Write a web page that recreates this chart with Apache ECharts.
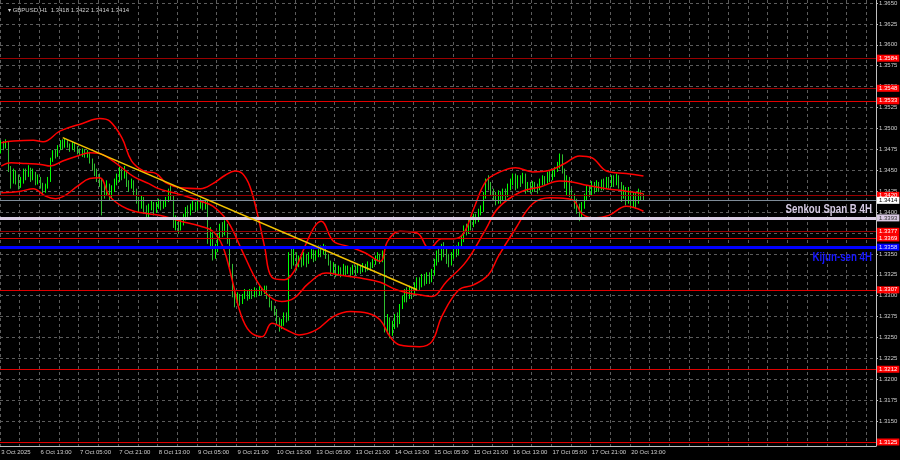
<!DOCTYPE html>
<html>
<head>
<meta charset="utf-8">
<script src="https://cdn.jsdelivr.net/npm/echarts@6/dist/echarts.min.js"></script>
<style>
html, body { margin: 0; padding: 0; background: #000; }
#chart { width: 900px; height: 460px; }
</style>
</head>
<body>
<div id="chart"></div>
<script>
// GBPUSD H1, bars from 3 Oct 2025 21:00 to 20 Oct 2025 18:00
var firstOpen = 1.3472
var closes = [
  1.3482, 1.3478, 1.3484, 1.3452, 1.3438, 1.3445, 1.3440, 1.3432, 1.3436, 1.3448,
  1.3444, 1.3450, 1.3441, 1.3446, 1.3436, 1.3440, 1.3432, 1.3426, 1.3430, 1.3438,
  1.3462, 1.3470, 1.3468, 1.3476, 1.3482, 1.3479, 1.3484, 1.3480, 1.3476, 1.3481,
  1.3477, 1.3472, 1.3470, 1.3474, 1.3468, 1.3471, 1.3462, 1.3455, 1.3450, 1.3442,
  1.3436, 1.3428, 1.3425, 1.3432, 1.3420, 1.3427, 1.3436, 1.3440, 1.3448, 1.3442,
  1.3446, 1.3434, 1.3430, 1.3436, 1.3426, 1.3414, 1.3408, 1.3416, 1.3404, 1.3398,
  1.3405, 1.3410, 1.3402, 1.3408, 1.3412, 1.3406, 1.3411, 1.3415, 1.3424, 1.3418,
  1.3386, 1.3390, 1.3382, 1.3388, 1.3394, 1.3402, 1.3398, 1.3406, 1.3410, 1.3404,
  1.3408, 1.3412, 1.3406, 1.3410, 1.3368, 1.3372, 1.3346, 1.3356, 1.3370, 1.3382,
  1.3376, 1.3384, 1.3366, 1.3336, 1.3302, 1.3296, 1.3300, 1.3292, 1.3298, 1.3304,
  1.3298, 1.3304, 1.3300, 1.3306, 1.3302, 1.3308, 1.3304, 1.3310, 1.3300, 1.3292,
  1.3286, 1.3280, 1.3270, 1.3262, 1.3268, 1.3276, 1.3272, 1.3346, 1.3340, 1.3350, 1.3336, 1.3344, 1.3340,
  1.3346, 1.3340, 1.3348, 1.3352, 1.3344, 1.3350, 1.3356, 1.3352, 1.3358, 1.3348,
  1.3340, 1.3330, 1.3336, 1.3328, 1.3332, 1.3326, 1.3334, 1.3328, 1.3332, 1.3327,
  1.3333, 1.3329, 1.3334, 1.3330, 1.3336, 1.3332, 1.3338, 1.3335, 1.3340, 1.3344, 1.3348, 1.3343, 1.3350,
  1.3262, 1.3270, 1.3258, 1.3264, 1.3272, 1.3268, 1.3286, 1.3296, 1.3302, 1.3298, 1.3306, 1.3302,
  1.3312, 1.3318, 1.3314, 1.3322, 1.3318, 1.3324, 1.3320, 1.3328, 1.3340, 1.3348,
  1.3344, 1.3356, 1.3352, 1.3345, 1.3338, 1.3348, 1.3356, 1.3350, 1.3360, 1.3368,
  1.3380, 1.3376, 1.3388, 1.3384, 1.3394, 1.3390, 1.3400, 1.3404, 1.3420, 1.3436,
  1.3430, 1.3424, 1.3418, 1.3414, 1.3420, 1.3416, 1.3424, 1.3420, 1.3430, 1.3436,
  1.3442, 1.3432, 1.3440, 1.3436, 1.3444, 1.3428, 1.3432, 1.3426, 1.3434, 1.3430, 1.3428,
  1.3436, 1.3440, 1.3437, 1.3444, 1.3442, 1.3446, 1.3450, 1.3456, 1.3468, 1.3450,
  1.3432, 1.3440, 1.3424, 1.3418, 1.3412, 1.3404, 1.3396, 1.3408, 1.3418, 1.3428,
  1.3424, 1.3432, 1.3428, 1.3434, 1.3430, 1.3436, 1.3432, 1.3438, 1.3434, 1.3440,
  1.3436, 1.3442, 1.3432, 1.3420, 1.3428, 1.3414, 1.3424, 1.3410, 1.3420, 1.3412, 1.3424, 1.3418, 1.3414
]
var highs = [
  1.3486, 1.3485, 1.3487, 1.3485, 1.3455, 1.3452, 1.3450, 1.3445, 1.3442, 1.3452,
  1.3452, 1.3456, 1.3453, 1.3452, 1.3448, 1.3445, 1.3442, 1.3435, 1.3434, 1.3442,
  1.3465, 1.3474, 1.3475, 1.3480, 1.3486, 1.3487, 1.3488, 1.3486, 1.3482, 1.3484,
  1.3483, 1.3479, 1.3476, 1.3476, 1.3475, 1.3474, 1.3472, 1.3464, 1.3458, 1.3452,
  1.3446, 1.3440, 1.3434, 1.3438, 1.3434, 1.3432, 1.3440, 1.3446, 1.3454, 1.3452,
  1.3455, 1.3448, 1.3438, 1.3440, 1.3438, 1.3428, 1.3418, 1.3420, 1.3418, 1.3408,
  1.3410, 1.3414, 1.3412, 1.3412, 1.3416, 1.3415, 1.3414, 1.3418, 1.3428, 1.3432,
  1.3420, 1.3396, 1.3394, 1.3392, 1.3398, 1.3406, 1.3408, 1.3410, 1.3414, 1.3412,
  1.3414, 1.3416, 1.3414, 1.3414, 1.3414, 1.3382, 1.3376, 1.3362, 1.3374, 1.3386,
  1.3388, 1.3390, 1.3386, 1.3368, 1.3338, 1.3306, 1.3304, 1.3302, 1.3302, 1.3308,
  1.3306, 1.3308, 1.3308, 1.3310, 1.3308, 1.3312, 1.3310, 1.3312, 1.3312, 1.3302,
  1.3294, 1.3288, 1.3284, 1.3274, 1.3272, 1.3280, 1.3280, 1.3352, 1.3356, 1.3356, 1.3352, 1.3348, 1.3346,
  1.3352, 1.3350, 1.3352, 1.3356, 1.3355, 1.3354, 1.3360, 1.3360, 1.3362, 1.3360,
  1.3350, 1.3342, 1.3340, 1.3338, 1.3336, 1.3334, 1.3338, 1.3336, 1.3336, 1.3334,
  1.3337, 1.3336, 1.3338, 1.3336, 1.3339, 1.3338, 1.3341, 1.3340, 1.3344, 1.3348, 1.3352, 1.3350, 1.3354,
  1.3352, 1.3278, 1.3274, 1.3270, 1.3278, 1.3280, 1.3290, 1.3300, 1.3308, 1.3310, 1.3312, 1.3310,
  1.3316, 1.3322, 1.3322, 1.3326, 1.3326, 1.3328, 1.3328, 1.3332, 1.3344, 1.3354,
  1.3356, 1.3362, 1.3364, 1.3358, 1.3350, 1.3352, 1.3360, 1.3360, 1.3364, 1.3372,
  1.3384, 1.3386, 1.3392, 1.3392, 1.3398, 1.3398, 1.3404, 1.3408, 1.3424, 1.3440,
  1.3444, 1.3436, 1.3428, 1.3424, 1.3426, 1.3424, 1.3428, 1.3428, 1.3434, 1.3440,
  1.3446, 1.3446, 1.3444, 1.3444, 1.3447, 1.3446, 1.3436, 1.3436, 1.3437, 1.3436, 1.3434,
  1.3440, 1.3444, 1.3443, 1.3448, 1.3449, 1.3450, 1.3454, 1.3460, 1.3470, 1.3469,
  1.3452, 1.3444, 1.3442, 1.3428, 1.3422, 1.3416, 1.3410, 1.3412, 1.3422, 1.3432,
  1.3432, 1.3437, 1.3436, 1.3438, 1.3436, 1.3439, 1.3440, 1.3442, 1.3442, 1.3444,
  1.3444, 1.3446, 1.3444, 1.3436, 1.3432, 1.3430, 1.3430, 1.3426, 1.3424, 1.3424, 1.3428, 1.3426, 1.3422
]
var lows = [
  1.3470, 1.3474, 1.3476, 1.3448, 1.3428, 1.3434, 1.3433, 1.3427, 1.3429, 1.3434,
  1.3438, 1.3442, 1.3436, 1.3438, 1.3432, 1.3433, 1.3428, 1.3422, 1.3423, 1.3428,
  1.3436, 1.3460, 1.3464, 1.3466, 1.3474, 1.3475, 1.3477, 1.3477, 1.3472, 1.3474,
  1.3472, 1.3469, 1.3467, 1.3466, 1.3465, 1.3465, 1.3458, 1.3450, 1.3443, 1.3436,
  1.3430, 1.3396, 1.3416, 1.3420, 1.3414, 1.3416, 1.3424, 1.3432, 1.3436, 1.3438,
  1.3440, 1.3430, 1.3424, 1.3428, 1.3420, 1.3410, 1.3400, 1.3404, 1.3398, 1.3392,
  1.3394, 1.3402, 1.3396, 1.3399, 1.3404, 1.3402, 1.3404, 1.3406, 1.3412, 1.3414,
  1.3381, 1.3378, 1.3374, 1.3378, 1.3384, 1.3390, 1.3394, 1.3396, 1.3402, 1.3400,
  1.3402, 1.3404, 1.3402, 1.3403, 1.3362, 1.3358, 1.3342, 1.3344, 1.3352, 1.3366,
  1.3370, 1.3372, 1.3362, 1.3334, 1.3298, 1.3286, 1.3292, 1.3288, 1.3290, 1.3296,
  1.3294, 1.3296, 1.3296, 1.3298, 1.3298, 1.3300, 1.3300, 1.3302, 1.3296, 1.3286,
  1.3282, 1.3276, 1.3266, 1.3257, 1.3260, 1.3264, 1.3268, 1.3270, 1.3332, 1.3336, 1.3330, 1.3334, 1.3334,
  1.3336, 1.3334, 1.3338, 1.3344, 1.3340, 1.3342, 1.3346, 1.3346, 1.3349, 1.3344,
  1.3336, 1.3324, 1.3326, 1.3322, 1.3325, 1.3322, 1.3324, 1.3324, 1.3326, 1.3322,
  1.3325, 1.3324, 1.3327, 1.3326, 1.3328, 1.3328, 1.3330, 1.3330, 1.3333, 1.3337, 1.3341, 1.3338, 1.3340,
  1.3256, 1.3254, 1.3249, 1.3252, 1.3260, 1.3262, 1.3266, 1.3284, 1.3292, 1.3292, 1.3296, 1.3296,
  1.3300, 1.3308, 1.3306, 1.3310, 1.3312, 1.3314, 1.3314, 1.3316, 1.3324, 1.3336,
  1.3340, 1.3342, 1.3346, 1.3338, 1.3334, 1.3336, 1.3344, 1.3346, 1.3348, 1.3356,
  1.3364, 1.3372, 1.3374, 1.3378, 1.3382, 1.3386, 1.3388, 1.3396, 1.3400, 1.3416,
  1.3426, 1.3420, 1.3414, 1.3408, 1.3410, 1.3410, 1.3414, 1.3414, 1.3418, 1.3426,
  1.3432, 1.3426, 1.3428, 1.3430, 1.3434, 1.3422, 1.3424, 1.3422, 1.3424, 1.3424, 1.3422,
  1.3426, 1.3432, 1.3432, 1.3434, 1.3436, 1.3438, 1.3442, 1.3448, 1.3452, 1.3446,
  1.3428, 1.3420, 1.3418, 1.3414, 1.3404, 1.3398, 1.3389, 1.3392, 1.3404, 1.3414,
  1.3418, 1.3420, 1.3422, 1.3424, 1.3424, 1.3426, 1.3426, 1.3428, 1.3428, 1.3430,
  1.3430, 1.3432, 1.3428, 1.3412, 1.3416, 1.3408, 1.3410, 1.3404, 1.3406, 1.3404, 1.3410, 1.3414, 1.3414
]

var bandUpper = [
  [0, 1.3483], [5, 1.3485], [13, 1.3486], [17, 1.3484], [24, 1.3497], [33, 1.3506],
  [40, 1.3512], [44, 1.3509], [49, 1.3489], [53, 1.3461], [58, 1.3449], [63, 1.3446],
  [67, 1.3435], [73, 1.3429], [81, 1.3428], [86, 1.3434], [91, 1.3444], [95, 1.3449],
  [98, 1.3446], [101, 1.3431], [104, 1.3399], [107, 1.3359], [110, 1.3322], [115, 1.3319],
  [119, 1.3329], [123, 1.3356], [127, 1.3381], [130, 1.3389], [135, 1.3365], [141, 1.3359],
  [148, 1.3351], [154, 1.3341], [157, 1.3365], [162, 1.3377], [169, 1.3375], [174, 1.3356],
  [179, 1.3368], [184, 1.3368], [188, 1.3375], [192, 1.3404], [197, 1.3437], [202, 1.3447],
  [209, 1.3453], [216, 1.3448], [223, 1.3450], [229, 1.3458], [235, 1.3467], [240, 1.3465],
  [246, 1.3449], [254, 1.3446], [261, 1.3443]
]
var bandMiddle = [
  [0, 1.3455], [4, 1.3459], [10, 1.3458], [16, 1.3457], [20, 1.3455], [25, 1.3461],
  [31, 1.3467], [36, 1.3471], [40, 1.3470], [44, 1.3464], [49, 1.3453], [54, 1.3442],
  [60, 1.3434], [64, 1.3428], [70, 1.3423], [75, 1.3419], [81, 1.3413], [86, 1.3407],
  [92, 1.3389], [98, 1.3353], [104, 1.3317], [109, 1.3299], [114, 1.3293], [119, 1.3297],
  [125, 1.3315], [132, 1.3327], [139, 1.3324], [146, 1.3321], [154, 1.3316], [159, 1.3309],
  [164, 1.3304], [170, 1.3301], [175, 1.3299], [181, 1.3317], [189, 1.3341], [197, 1.3380],
  [202, 1.3405], [211, 1.3424], [219, 1.3430], [227, 1.3437], [232, 1.3436], [238, 1.3432],
  [246, 1.3428], [254, 1.3425], [261, 1.3422]
]
var bandLower = [
  [0, 1.3423], [8, 1.3425], [13, 1.3428], [18, 1.3419], [22, 1.3416], [26, 1.3420],
  [31, 1.3431], [36, 1.3440], [40, 1.3441], [44, 1.3419], [49, 1.3407], [54, 1.3401],
  [60, 1.3398], [66, 1.3395], [73, 1.3389], [81, 1.3383], [86, 1.3377], [90, 1.3359],
  [94, 1.3317], [97, 1.3281], [101, 1.3257], [106, 1.3251], [110, 1.3267], [116, 1.3259],
  [121, 1.3253], [128, 1.3259], [135, 1.3275], [142, 1.3281], [149, 1.3279], [154, 1.3271],
  [158, 1.3251], [162, 1.3241], [170, 1.3239], [175, 1.3245], [179, 1.3275], [186, 1.3307],
  [192, 1.3313], [198, 1.3325], [202, 1.3347], [209, 1.3380], [216, 1.3410], [223, 1.3417],
  [230, 1.3416], [233, 1.3413], [236, 1.3398], [241, 1.3393], [247, 1.3396], [254, 1.3407],
  [261, 1.3401]
]
var trendLine = [[25, 1.3489], [169, 1.3307]]

var timeLabels = ['3 Oct 2025', '6 Oct 13:00', '7 Oct 05:00', '7 Oct 21:00', '8 Oct 13:00',
  '9 Oct 05:00', '9 Oct 21:00', '10 Oct 13:00', '13 Oct 05:00', '13 Oct 21:00', '14 Oct 13:00',
  '15 Oct 05:00', '15 Oct 21:00', '16 Oct 13:00', '17 Oct 05:00', '17 Oct 21:00', '20 Oct 13:00']
var darkRedLevels = [1.3584, 1.3548, 1.3420, 1.3377]
var redLevels = [1.3533, 1.3369, 1.3307, 1.3212, 1.3125]
var bidLevel = 1.3414
var senkouLevel = 1.3393
var kijunLevel = 1.3358
var titleText = '\u25BE GBPUSD,H1  1.3418 1.3422 1.3414 1.3414'

var slots = 356
var cats = []
for (var i = 0; i < slots; i++) cats.push(String(i))

var candles = closes.map(function (c, i) {
  var o = i ? closes[i - 1] : firstOpen
  return [o, c, Math.min(lows[i], o, c), Math.max(highs[i], o, c)]
})

var axisGrey = '#bfbfbf'
var gridGrey = '#5c5c5c'
var smallFont = 'Liberation Sans, Arial, sans-serif'

function boxLabel (value, bg, fg) {
  return {
    show: true,
    position: 'end',
    distance: 1,
    formatter: value.toFixed(4),
    backgroundColor: bg,
    color: fg,
    fontSize: 6,
    fontFamily: smallFont,
    lineHeight: 7,
    padding: [0, 2, 0, 2]
  }
}

function level (v, color, width, label) {
  return { yAxis: v, lineStyle: { color: color, width: width, type: 'solid' }, label: label }
}

var levelLines = []
darkRedLevels.forEach(function (v) {
  levelLines.push(level(v, '#990000', 1, boxLabel(v, '#ff0000', '#ffffff')))
})
redLevels.forEach(function (v) {
  levelLines.push(level(v, '#e00000', 1, boxLabel(v, '#ff0000', '#ffffff')))
})
levelLines.push(level(bidLevel, '#7f8c99', 1, boxLabel(bidLevel, '#ffffff', '#000000')))
levelLines.push(level(senkouLevel, '#dccfe6', 3, boxLabel(senkouLevel, '#d9c9e3', '#333333')))
levelLines.push(level(kijunLevel, '#0000ff', 3, boxLabel(kijunLevel, '#0000ff', '#e0e0ff')))

function bandSeries (name, data) {
  return {
    name: name,
    type: 'line',
    xAxisIndex: 0,
    yAxisIndex: 0,
    data: data,
    smooth: 0.4,
    symbol: 'none',
    z: 4,
    lineStyle: { color: '#ff0000', width: 1.5 }
  }
}

var chart = echarts.init(document.getElementById('chart'))
var option = {
  backgroundColor: '#000000',
  animation: false,
  title: {
    text: titleText,
    left: 3,
    top: 2,
    textStyle: { color: '#d0d0d0', fontSize: 6, fontWeight: 'normal', fontFamily: smallFont }
  },
  grid: [
    { left: 0, right: 24, top: -17.9, bottom: -2.9, outerBoundsMode: 'none', containLabel: false },
    { left: 0, right: 24, top: 0, bottom: 14, outerBoundsMode: 'none', containLabel: false }
  ],
  xAxis: [
    { type: 'category', gridIndex: 0, data: cats, show: false },
    {
      type: 'category',
      gridIndex: 1,
      data: cats,
      axisLine: { lineStyle: { color: axisGrey, width: 1 } },
      axisTick: { interval: function (i) { return i % 8 === 0 }, length: 3, lineStyle: { color: axisGrey } },
      axisLabel: {
        interval: function (i) { return i % 16 === 0 && i / 16 < timeLabels.length },
        formatter: function (v, i) { return timeLabels[i / 16] || '' },
        align: 'left',
        margin: 3,
        fontSize: 6,
        fontFamily: smallFont,
        color: '#cfcfcf'
      },
      splitLine: { show: true, interval: function (i) { return i % 8 === 0 }, lineStyle: { color: gridGrey, type: [3, 3], width: 1 } }
    }
  ],
  yAxis: [
    {
      type: 'value',
      gridIndex: 0,
      position: 'right',
      min: 1.3100,
      max: 1.3675,
      interval: 0.0025,
      axisLine: { show: false },
      axisTick: { show: true, length: 2, lineStyle: { color: axisGrey } },
      axisLabel: { margin: 3, fontSize: 6, fontFamily: smallFont, color: '#cfcfcf', formatter: function (v) { return v.toFixed(4) } },
      splitLine: { show: true, lineStyle: { color: gridGrey, type: [3, 3], width: 1 } }
    },
    {
      type: 'value',
      gridIndex: 1,
      position: 'right',
      min: 0,
      max: 1,
      axisLine: { show: true, lineStyle: { color: axisGrey, width: 1 } },
      axisTick: { show: false },
      axisLabel: { show: false },
      splitLine: { show: false }
    }
  ],
  series: [
    {
      name: 'GBPUSD',
      type: 'candlestick',
      xAxisIndex: 0,
      yAxisIndex: 0,
      data: candles,
      barWidth: 1,
      z: 2,
      itemStyle: {
        color: '#00ff00',
        color0: '#2fbf2f',
        borderColor: '#00ff00',
        borderColor0: '#2fbf2f',
        borderWidth: 1
      },
      markLine: {
        silent: true,
        symbol: ['none', 'none'],
        animation: false,
        precision: 4,
        z: 5,
        data: levelLines
      }
    },
    bandSeries('upper', bandUpper),
    bandSeries('middle', bandMiddle),
    bandSeries('lower', bandLower),
    {
      name: 'trend',
      type: 'line',
      xAxisIndex: 0,
      yAxisIndex: 0,
      data: trendLine,
      symbol: 'none',
      z: 5,
      lineStyle: { color: '#f2c200', width: 1.5 }
    }
  ]
}
chart.setOption(option)

// narrow bold captions next to the 4H levels, anchored to their prices
var senkouY = chart.convertToPixel({ yAxisIndex: 0 }, senkouLevel)
var kijunY = chart.convertToPixel({ yAxisIndex: 0 }, kijunLevel)
var captionFont = 'bold 12px "Liberation Sans", Arial, sans-serif'
chart.setOption({
  graphic: [
    {
      type: 'text', x: 872, y: senkouY - 2, scaleX: 0.81, z: 10, silent: true,
      style: { text: 'Senkou Span B 4H', font: captionFont, fill: '#d6cbe4', align: 'right', verticalAlign: 'bottom' }
    },
    {
      type: 'text', x: 872, y: kijunY + 5, scaleX: 0.81, z: 10, silent: true,
      style: { text: 'Kijun-sen 4H', font: captionFont, fill: '#1818ff', align: 'right', verticalAlign: 'top' }
    }
  ]
})
</script>
</body>
</html>
